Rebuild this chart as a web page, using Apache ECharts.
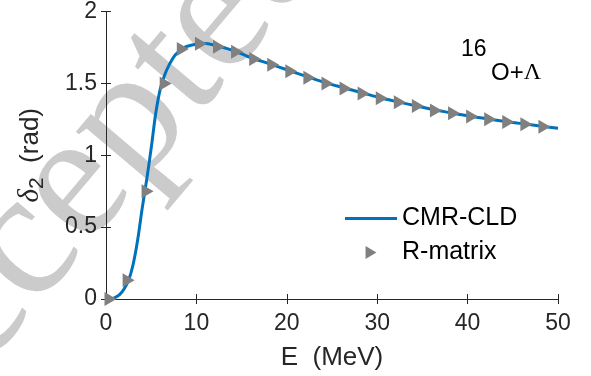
<!DOCTYPE html>
<html>
<head>
<meta charset="utf-8">
<script src="https://cdn.jsdelivr.net/npm/echarts@6/dist/echarts.min.js"></script>
<style>
  html, body { margin: 0; padding: 0; background: #fff; }
  #chart { width: 591px; height: 376px; }
</style>
</head>
<body>
<div id="chart"></div>
<script>
// CMR-CLD curve (E in MeV, delta_2 in rad)
const curveE = [0, 0.5, 1, 1.5, 2, 2.5, 3, 3.5, 4, 4.5, 5, 5.5, 6, 6.5, 7, 7.5, 8, 8.5, 9, 10, 11, 12, 13, 14, 15, 16, 18, 20, 22, 24, 26, 28, 30, 32, 34, 36, 38, 40, 42, 44, 46, 48, 50];
const curveDelta = [0.0, 0.0, 0.01, 0.03, 0.07, 0.13, 0.24, 0.41, 0.63, 0.83, 1.05, 1.29, 1.46, 1.56, 1.63, 1.685, 1.72, 1.745, 1.758, 1.772, 1.777, 1.766, 1.75, 1.73, 1.706, 1.68, 1.638, 1.595, 1.552, 1.51, 1.474, 1.44, 1.405, 1.375, 1.348, 1.32, 1.297, 1.275, 1.255, 1.237, 1.22, 1.204, 1.188];

// R-matrix points
const rmatE = [0.5, 2.5, 4.6, 6.6, 8.5, 10.5, 12.5, 14.5, 16.5, 18.5, 20.5, 22.5, 24.5, 26.5, 28.5, 30.5, 32.5, 34.5, 36.5, 38.5, 40.5, 42.5, 44.5, 46.5, 48.5];
const rmatDelta = [0.0, 0.13, 0.75, 1.5, 1.74, 1.775, 1.755, 1.72, 1.67, 1.63, 1.585, 1.54, 1.5, 1.465, 1.43, 1.397, 1.368, 1.342, 1.312, 1.292, 1.27, 1.25, 1.232, 1.215, 1.198];

const axisColor = '#262626';
const tri = 'path://M0,0L10,6L0,12Z';
const bar = 'path://M0,0H52V3H0Z';

const chart = echarts.init(document.getElementById('chart'));

const baseX = {
  type: 'value', min: 0, max: 50, interval: 10,
  axisLine: { show: true, lineStyle: { color: axisColor, width: 1 } },
  axisTick: { show: true, inside: true, length: 5, lineStyle: { color: axisColor } },
  splitLine: { show: false }
};
const baseY = {
  type: 'value', min: 0, max: 2, interval: 0.5,
  axisLine: { show: true, lineStyle: { color: axisColor, width: 1 } },
  axisTick: { show: true, inside: true, length: 5, lineStyle: { color: axisColor } },
  splitLine: { show: false }
};

chart.setOption({
  animation: false,
  backgroundColor: '#fff',
  grid: { left: 106, right: 33, top: 11, bottom: 73 },
  xAxis: [
    Object.assign({}, baseX, {
      position: 'bottom',
      name: 'E  (MeV)', nameLocation: 'middle', nameGap: 46,
      nameTextStyle: { fontSize: 26, color: axisColor, fontFamily: 'Liberation Sans' },
      axisLabel: { fontSize: 23, color: axisColor, fontFamily: 'Liberation Sans', margin: 13 }
    }),
    Object.assign({}, baseX, { position: 'top', axisLabel: { show: false } })
  ],
  yAxis: [
    Object.assign({}, baseY, {
      position: 'left',
      name: '{d|δ}{s|2}{t|  (rad)}', nameLocation: 'middle', nameGap: 58,
      nameTextStyle: {
        color: axisColor,
        rich: {
          d: { fontSize: 29, fontFamily: 'Liberation Serif', fontStyle: 'italic', color: axisColor },
          s: { fontSize: 21, fontFamily: 'Liberation Sans', color: axisColor, padding: [14, 0, 0, 0] },
          t: { fontSize: 26, fontFamily: 'Liberation Sans', color: axisColor }
        }
      },
      axisLabel: { fontSize: 23, color: axisColor, fontFamily: 'Liberation Sans', margin: 9 }
    }),
    Object.assign({}, baseY, { position: 'right', axisLabel: { show: false } })
  ],
  legend: {
    orient: 'vertical', left: 340, top: 201,
    itemWidth: 52, itemHeight: 13, itemGap: 9,
    symbolKeepAspect: true,
    textStyle: { fontSize: 25, lineHeight: 25, color: '#000', fontFamily: 'Liberation Sans' },
    data: [
      { name: 'CMR-CLD', icon: bar, itemStyle: { color: '#0072BD' } },
      { name: 'R-matrix', icon: tri }
    ]
  },
  graphic: [
    {
      type: 'text', z: -10,
      x: -138, y: 440, rotation: 0.87,
      style: { text: 'Accepted', fontSize: 180, fontFamily: 'Liberation Serif', fill: '#cbcbcb', verticalAlign: 'middle' }
    },
    {
      type: 'text', x: 461, y: 38,
      style: { text: '16', fontSize: 23, fontFamily: 'Liberation Sans', fill: '#000' }
    },
    {
      type: 'text', x: 491, y: 61,
      style: {
        text: '{a|O+}{b|Λ}',
        rich: {
          a: { fontSize: 24, fontFamily: 'Liberation Sans', fill: '#000' },
          b: { fontSize: 24, fontFamily: 'Liberation Serif', fill: '#000' }
        }
      }
    }
  ],
  series: [
    {
      name: 'CMR-CLD', type: 'line', xAxisIndex: 0, yAxisIndex: 0,
      smooth: 0.3, symbol: 'none', showSymbol: false,
      lineStyle: { color: '#0072BD', width: 3 },
      itemStyle: { color: '#0072BD' },
      data: curveE.map((e, i) => [e, curveDelta[i]]),
      z: 2
    },
    {
      name: 'R-matrix', type: 'scatter', xAxisIndex: 0, yAxisIndex: 0,
      symbol: tri, symbolSize: [12, 14],
      itemStyle: { color: '#808080', opacity: 1 },
      data: rmatE.map((e, i) => [e, rmatDelta[i]]),
      z: 3
    }
  ]
});
</script>
</body>
</html>
